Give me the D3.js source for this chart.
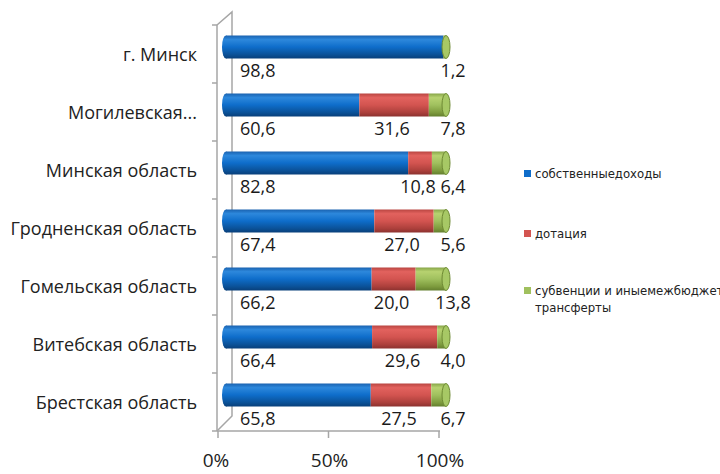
<!DOCTYPE html>
<html><head><meta charset="utf-8">
<script src="https://cdn.jsdelivr.net/npm/d3@7"></script>
<style>body{margin:0;background:#fff;overflow:hidden}</style>
</head><body><svg id="c" width="720" height="474"></svg>
<script>
const categories = ["г. Минск","Могилевская...","Минская область","Гродненская область","Гомельская область","Витебская область","Брестская область"];
const ownIncome = [98.8,60.6,82.8,67.4,66.2,66.4,65.8];
const subsidy = [0,31.6,10.8,27.0,20.0,29.6,27.5];
const transfers = [1.2,7.8,6.4,5.6,13.8,4.0,6.7];
const seriesNames = ["собственныедоходы","дотация","субвенции и иныемежбюджетные|трансферты"];
const xTickValues = [0,50,100];

const svg = d3.select("#c");
const FONT = "'Open Sans', 'DejaVu Sans', sans-serif";
const NARROW = "'Liberation Sans Narrow', 'DejaVu Sans Condensed', 'Open Sans', sans-serif";

// scales
const y = d3.scaleBand().domain(categories).range([25,431]).paddingInner(0).paddingOuter(0);
const xAxisScale = d3.scaleLinear().domain([0,100]).range([218,439]);
const xBar = d3.scaleLinear().domain([0,100]).range([226,446]);
const barH = 23, barShift = -7;

// gradients
const defs = svg.append("defs");
const grads = [
  {id:"gBlue", stops:[[0,"#1a62b0"],[0.18,"#2d88dc"],[0.5,"#0e6dca"],[0.82,"#0b5299"],[1,"#083f7a"]]},
  {id:"gRed", stops:[[0,"#b94541"],[0.18,"#e2625e"],[0.5,"#d35450"],[0.82,"#ad403c"],[1,"#8c322f"]]},
  {id:"gGreen", stops:[[0,"#87a548"],[0.18,"#b7d270"],[0.5,"#a0c05e"],[0.82,"#7e9c3e"],[1,"#647f2e"]]}
];
grads.forEach(g=>{
  const lg = defs.append("linearGradient").attr("id",g.id).attr("x1",0).attr("y1",0).attr("x2",0).attr("y2",1);
  g.stops.forEach(s=>lg.append("stop").attr("offset",s[0]).attr("stop-color",s[1]));
});
const colors = ["url(#gBlue)","url(#gRed)","url(#gGreen)"];
const legendColors = ["#0e6dca","#d35450","#a0c05e"];

// 3D axis walls
const axisColor = "#a6a6a6";
const g0 = svg.append("g").attr("stroke",axisColor).attr("stroke-width",1.5).attr("fill","none");
const yTop = y.range()[0], yBot = y.range()[1];
const x0 = xAxisScale(0) - 1, back = x0 + 15;
g0.append("path").attr("d",`M${x0},${yTop}L${back},${yTop-13}L${back},${yBot-15}L${x0},${yBot}`);
g0.append("line").attr("x1",x0).attr("x2",x0).attr("y1",yTop).attr("y2",yBot);
const bounds = categories.map(c=>y(c)).concat([yBot]);
g0.selectAll("line.t").data(bounds).enter().append("line")
  .attr("x1",x0-5).attr("x2",x0).attr("y1",d=>d).attr("y2",d=>d);
g0.append("line").attr("x1",x0).attr("x2",xAxisScale(100)+1).attr("y1",yBot).attr("y2",yBot);
g0.selectAll("line.xt").data(xTickValues).enter().append("line")
  .attr("x1",d=>xAxisScale(d)).attr("x2",d=>xAxisScale(d)).attr("y1",yBot).attr("y2",yBot+7);

svg.append("g").selectAll("text").data(xTickValues).enter().append("text")
  .attr("x",d=>xAxisScale(d)+ (d===0?-2:1)).attr("y",467).attr("text-anchor","middle")
  .attr("font-family",FONT).attr("font-size",19).attr("fill","#222")
  .text(d=>d+"%");

svg.append("g").selectAll("text").data(categories).enter().append("text")
  .attr("x",197).attr("y",d=>y(d)+y.bandwidth()/2+7).attr("text-anchor","end")
  .attr("font-family",FONT).attr("font-size",18).attr("fill","#222")
  .text(d=>d);

const series = [ownIncome, subsidy, transfers];
const rows = categories.map((c,i)=>{
  let cum=0;
  const segs = series.map((s,k)=>{ const a=cum; cum+=s[i]; return {k, v:s[i], a, b:cum}; });
  return {c, i, segs};
});
const gb = svg.append("g");
rows.forEach(r=>{
  const cy = y(r.c)+y.bandwidth()/2+barShift;
  const top = cy-barH/2;
  gb.append("ellipse").attr("cx",xBar(0)).attr("cy",cy).attr("rx",4).attr("ry",barH/2).attr("fill",colors[0]);
  r.segs.forEach(s=>{
    if(s.v<=0) return;
    gb.append("rect").attr("x",xBar(s.a)).attr("y",top).attr("width",xBar(s.b)-xBar(s.a)).attr("height",barH)
      .attr("fill",colors[s.k]);
  });
  const last = r.segs.filter(s=>s.v>0).slice(-1)[0];
  gb.append("ellipse").attr("cx",xBar(last.b)).attr("cy",cy).attr("rx",4).attr("ry",barH/2)
    .attr("fill","#a7c865").attr("stroke","#6e8a34").attr("stroke-width",1);

  const base = y(r.c)+y.bandwidth()/2+23;
  const lab = (x,anchor,v)=>gb.append("text").attr("x",x).attr("y",base).attr("text-anchor",anchor)
     .attr("font-family",FONT).attr("font-size",18).attr("fill","#1a1a1a").text(d3.format(".1f")(v).replace(".",","));
  lab(xBar(0)+14,"start",r.segs[0].v);
  if(r.segs[1].v>0) lab((xBar(r.segs[1].a)+xBar(r.segs[1].b))/2 - 2,"middle",r.segs[1].v);
  lab(xBar(100)+7,"middle",r.segs[2].v);
});

const lg = svg.append("g");
const legY = [173,233,290];
seriesNames.forEach((n,i)=>{
  lg.append("rect").attr("x",524).attr("y",legY[i]-3).attr("width",7).attr("height",7).attr("fill",legendColors[i]);
  const parts = n.split("|");
  const t = lg.append("text").attr("font-family",NARROW).attr("font-size",13).attr("fill","#222");
  parts.forEach((p,j)=>t.append("tspan").attr("x",535).attr("y",legY[i]+5+j*17).text(p));
});
</script></body></html>
